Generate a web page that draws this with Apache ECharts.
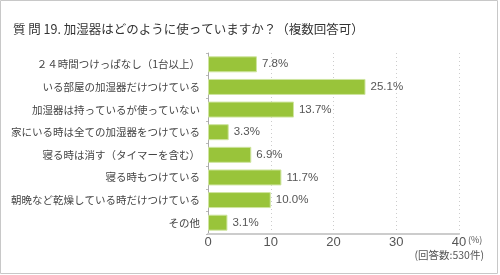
<!DOCTYPE html>
<html><head><meta charset="utf-8">
<script src="https://cdn.jsdelivr.net/npm/echarts@6/dist/echarts.min.js"></script>
<style>html,body{margin:0;padding:0;background:#fff}#c{width:500px;height:275px}</style>
</head><body><div id="c"></div>
<script>
const titleText = '質 問 19. 加湿器はどのように使っていますか？（複数回答可）';
const categories = [
  '２４時間つけっぱなし（1台以上）',
  'いる部屋の加湿器だけつけている',
  '加湿器は持っているが使っていない',
  '家にいる時は全ての加湿器をつけている',
  '寝る時は消す（タイマーを含む）',
  '寝る時もつけている',
  '朝晩など乾燥している時だけつけている',
  'その他'
];
const values = [7.8, 25.1, 13.7, 3.3, 6.9, 11.7, 10.0, 3.1];
const xTicks = [0, 10, 20, 30, 40];
const note = '(回答数:530件)';
const unit = '(%)';

const font = '"Noto Sans CJK JP", "Noto Sans", sans-serif';
const latin = '"Liberation Sans", Arial, sans-serif';
const chart = echarts.init(document.getElementById('c'), null, {renderer: 'canvas'});
chart.setOption({
  animation: false,
  textStyle: {fontFamily: font},
  title: {
    text: titleText, left: 8, top: 18,
    textStyle: {fontSize: 12.5, fontWeight: 'normal', color: '#333', fontFamily: font}
  },
  graphic: [
    {type: 'rect', shape: {x: 0.5, y: 0.5, width: 497, height: 273}, style: {fill: 'none', stroke: '#c8c8c8', lineWidth: 1}, silent: true},
    {type: 'text', left: 468, top: 235, style: {text: unit, fontSize: 9, fill: '#555', fontFamily: font}},
    {type: 'text', right: 16, top: 250, style: {text: note, fontSize: 10.5, fill: '#555', fontFamily: font}}
  ],
  grid: {left: 208, right: 41, top: 53, bottom: 41, containLabel: false},
  xAxis: {
    type: 'value', min: 0, max: 40, interval: 10,
    axisLine: {show: true, lineStyle: {color: '#ccc', width: 2}},
    axisTick: {show: false},
    axisLabel: {color: '#555', fontSize: 13, margin: 2, fontFamily: latin,
      formatter: v => xTicks.includes(v) ? String(v) : ''},
    splitLine: {show: true, lineStyle: {color: '#ccc', type: [1, 3], width: 1}}
  },
  yAxis: {
    type: 'category', data: categories, inverse: true,
    axisLine: {show: true, lineStyle: {color: '#aaa', width: 1}},
    axisTick: {show: true, length: 2, lineStyle: {color: '#bbb'}},
    axisLabel: {color: '#444', fontSize: 10.5, margin: 8, fontFamily: font}
  },
  series: [{
    type: 'bar', data: values, barWidth: 16,
    itemStyle: {color: '#99c43a', borderColor: '#cfe5a0', borderWidth: 1},
    label: {show: true, position: 'right', distance: 5, color: '#555', fontSize: 11.5,
      fontFamily: latin,
      formatter: p => p.value.toFixed(1) + '%'}
  }]
});
</script></body></html>
